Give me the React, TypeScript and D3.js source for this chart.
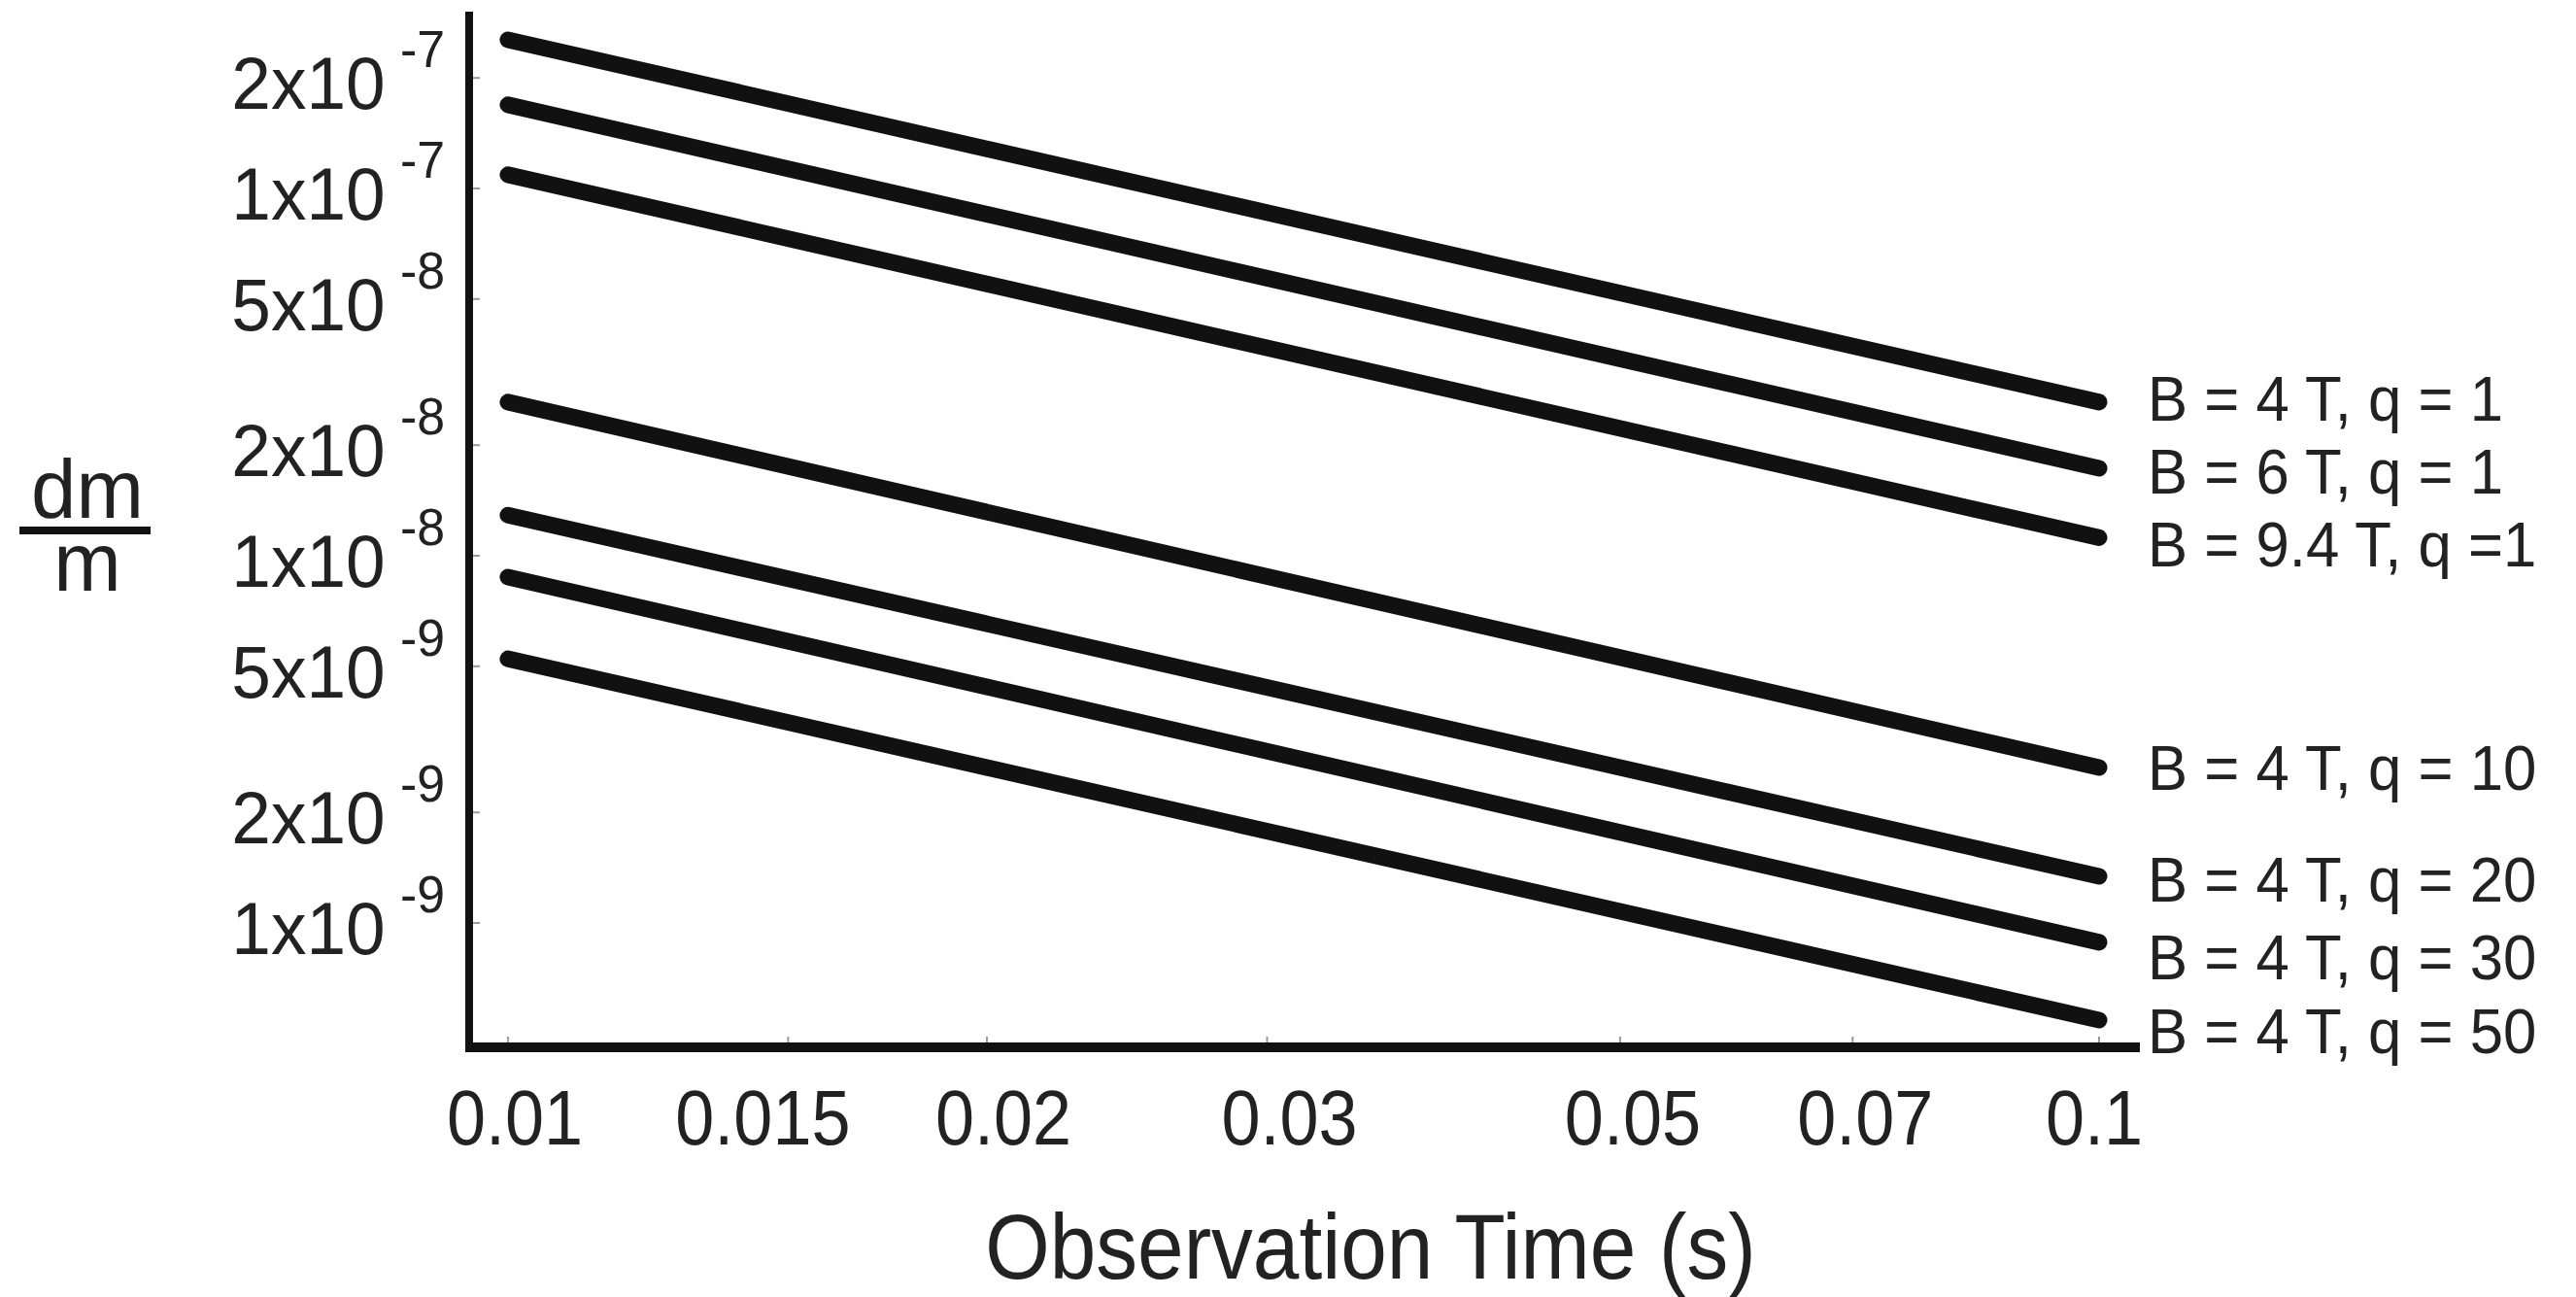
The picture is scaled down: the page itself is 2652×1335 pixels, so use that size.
import React from 'react';
import * as d3 from 'd3';

const W = 2652;
const H = 1335;

// Observation times at which each curve is evaluated (s)
const times = [0.01, 0.1];

const seriesLabels = [
  'B = 4 T, q = 1',
  'B = 6 T, q = 1',
  'B = 9.4 T, q =1',
  'B = 4 T, q = 10',
  'B = 4 T, q = 20',
  'B = 4 T, q = 30',
  'B = 4 T, q = 50',
];

// Relative mass resolution dm/m at t = 0.01 s and at t = 0.1 s
const resolutionAt10ms = [2.54e-7, 1.69e-7, 1.09e-7, 2.62e-8, 1.29e-8, 8.75e-9, 5.24e-9];
const resolutionAt100ms = [2.62e-8, 1.73e-8, 1.12e-8, 2.65e-9, 1.34e-9, 8.86e-10, 5.44e-10];

const xTickValues = [0.01, 0.015, 0.02, 0.03, 0.05, 0.07, 0.1];
const xTickLabels = ['0.01', '0.015', '0.02', '0.03', '0.05', '0.07', '0.1'];

const yTickValues = [2e-7, 1e-7, 5e-8, 2e-8, 1e-8, 5e-9, 2e-9, 1e-9];
const yTickMantissas = ['2', '1', '5', '2', '1', '5', '2', '1'];
const yTickExponents = ['-7', '-7', '-8', '-8', '-8', '-9', '-9', '-9'];

// Layout
const FRAME = { left: 483, right: 2203, top: 12, bottom: 1078 };
const FONT = '"Liberation Sans", Arial, Helvetica, sans-serif';
const SQUEEZE = 0.9;
// vertical nudges that keep the end labels from crowding each other
const labelNudge = [-4, 3, 7, 0, 3, 15, 11];
// horizontal nudges of the hand-placed time labels
const xLabelNudge = [7, -26, 17, 23, 13, 13, -5];

const x = d3.scaleLog().domain([0.009454, 0.10608]).range([FRAME.left, FRAME.right]);
const y = d3.scaleLog().domain([4.586e-10, 3.03e-7]).range([FRAME.bottom, FRAME.top]);

const series = seriesLabels.map((label, i) => ({
  label,
  points: [
    { t: times[0], v: resolutionAt10ms[i] },
    { t: times[1], v: resolutionAt100ms[i] },
  ],
}));

const lineGen = d3
  .line<{ t: number; v: number }>()
  .x((d) => x(d.t))
  .y((d) => y(d.v));

export default function App() {
  return (
    <svg
      width={W}
      height={H}
      viewBox={`0 0 ${W} ${H}`}
      style={{ position: 'absolute', left: 0, top: 0, display: 'block', background: '#fff' }}
      fontFamily={FONT}
    >
      <rect x={0} y={0} width={W} height={H} fill="#fff" />

      {/* curves */}
      <g fill="none" stroke="#111" strokeWidth={17} strokeLinecap="round">
        {series.map((s) => (
          <path key={s.label} d={lineGen(s.points) || ''} />
        ))}
      </g>

      {/* curve labels at the right end */}
      <g fill="#222" fontSize={65}>
        {series.map((s, i) => {
          const yc = y(s.points[1].v) + labelNudge[i];
          return (
            <text key={s.label} transform={`translate(2211, ${yc + 23}) scale(0.95, 1)`}>
              {s.label}
            </text>
          );
        })}
      </g>

      {/* small inward ticks */}
      <g stroke="#999" strokeWidth={2}>
        {xTickValues.map((t) => (
          <line key={t} x1={x(t)} x2={x(t)} y1={FRAME.bottom - 4} y2={FRAME.bottom - 11} />
        ))}
        {yTickValues.map((v) => (
          <line key={v} x1={FRAME.left + 4} x2={FRAME.left + 11} y1={y(v)} y2={y(v)} />
        ))}
      </g>

      {/* axes */}
      <line x1={FRAME.left} x2={FRAME.left} y1={FRAME.top} y2={FRAME.bottom + 4} stroke="#111" strokeWidth={8} />
      <line x1={FRAME.left - 4} x2={FRAME.right} y1={FRAME.bottom} y2={FRAME.bottom} stroke="#111" strokeWidth={10} />

      {/* x tick labels */}
      <g fill="#222" fontSize={80} textAnchor="middle">
        {xTickValues.map((t, i) => (
          <text key={t} transform={`translate(${x(t) + xLabelNudge[i]}, 1178) scale(${SQUEEZE}, 1)`}>
            {xTickLabels[i]}
          </text>
        ))}
      </g>

      {/* y tick labels */}
      <g fill="#222" fontSize={76} textAnchor="end">
        {yTickValues.map((v, i) => (
          <text key={v} transform={`translate(458, ${y(v) + 32}) scale(0.96, 1)`}>
            {`${yTickMantissas[i]}x10`}
            <tspan dx={16} dy={-43} fontSize={54}>
              {yTickExponents[i]}
            </tspan>
          </text>
        ))}
      </g>

      {/* axis titles */}
      <text
        transform={`translate(1411, 1316) scale(${SQUEEZE}, 1)`}
        fontSize={95}
        textAnchor="middle"
        fill="#222"
      >
        Observation Time (s)
      </text>
      <g fill="#222" textAnchor="middle">
        <text transform="translate(90, 533) scale(0.97, 1)" fontSize={86}>dm</text>
        <line x1={20} x2={155} y1={546} y2={546} stroke="#111" strokeWidth={8} />
        <text transform="translate(90, 608) scale(0.97, 1)" fontSize={86}>m</text>
      </g>
    </svg>
  );
}
